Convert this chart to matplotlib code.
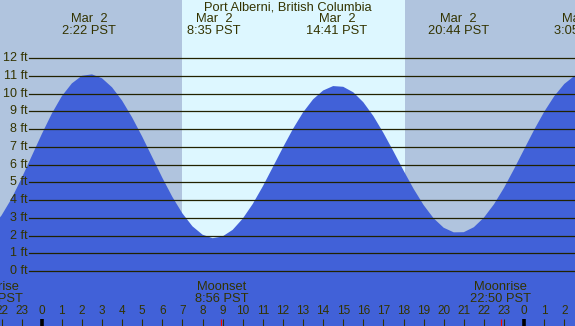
import numpy as np
import matplotlib
matplotlib.use("Agg")
import matplotlib.pyplot as plt

# ── data ─────────────────────────────────────────────────────────────────────
TITLE = "Port Alberni, British Columbia"
DATE_LABEL = "Mar  2"

# tide height (ft), read every half hour from 21:30 (prev day) to 03:00 (next day)
hours = np.arange(-2.5, 27.01, 0.5)
heights = [
    2.44, 3.13, 4.08, 5.23, 6.47, 7.71, 8.87, 9.86, 10.58, 11.01,   # -2.5 .. 2.0
    11.09, 10.87, 10.36, 9.61, 8.66, 7.58, 6.42, 5.26, 4.18, 3.25,  # 2.5 .. 7.0
    2.52, 2.05, 1.85, 1.95, 2.32, 2.95, 3.78, 4.77, 5.86, 6.96,     # 7.5 .. 12.0
    8.01, 8.94, 9.68, 10.18, 10.43, 10.39, 10.08, 9.52, 8.74, 7.79, # 12.5 .. 17.0
    6.75, 5.67, 4.64, 3.72, 2.97, 2.44, 2.18, 2.19, 2.47, 3.01,     # 17.5 .. 22.0
    3.76, 4.69, 5.75, 6.86, 7.96, 8.98, 9.86, 10.55, 11.00, 11.19,  # 22.5 .. 27.0
]

# high / low tide times
extreme_hours = [2.367, 8.583, 14.683, 20.733, 26.8]
extreme_labels = ["2:22 PST", "8:35 PST", "14:41 PST", "20:44 PST", "3:05 PST"]

# sun and moon
sunrise = 6.97
sunset = 18.06
moon_hours = [-2.45, 8.933, 22.833]
moon_events = ["Moonrise", "Moonset", "Moonrise"]
moon_labels = ["21:33 PST", "8:56 PST", "22:50 PST"]

ft_levels = list(range(0, 13))
hour_ticks = list(range(-2, 27))

# ── style ────────────────────────────────────────────────────────────────────
NIGHT = "#b0c4de"
DAY = "#ddf7ff"
WATER = "#4161d8"
INK = "#333300"
FONT = "Liberation Sans"

W, H = 575, 326
X0, PX_HOUR = 41.7, 20.1      # pixel of hour 0, pixels per hour
Y0, PX_FT = 271.0, 17.73      # pixel row of 0 ft, pixels per ft


def yfrac(row):
    """pixel row (from top) -> axes fraction"""
    return 1 - row / H


fig = plt.figure(figsize=(W / 100, H / 100), dpi=100)
ax = fig.add_axes([0, 0, 1, 1])
ax.set_xlim(-X0 / PX_HOUR, (W - X0) / PX_HOUR)
ax.set_ylim(-(H - Y0) / PX_FT, Y0 / PX_FT)
ax.axis("off")

# day / night background
xmin, xmax = ax.get_xlim()
ax.axvspan(xmin, sunrise, color=NIGHT, lw=0, zorder=0)
ax.axvspan(sunrise, sunset, color=DAY, lw=0, zorder=0)
ax.axvspan(sunset, xmax, color=NIGHT, lw=0, zorder=0)

# tide
ax.fill_between(hours, heights, -10, color=WATER, lw=0, zorder=1)

# ft grid lines + labels
x_line = (29 - X0) / PX_HOUR
for ft in ft_levels:
    ax.plot([x_line, xmax], [ft, ft], color="#222200", lw=0.9, zorder=2)
    ax.text((27.5 - X0) / PX_HOUR, ft, f"{ft} ft", ha="right", va="center",
            fontsize=9, color=INK, family=FONT, zorder=3)

trans = ax.get_xaxis_transform()

# title + tide extreme labels
ax.text((288 - X0) / PX_HOUR, yfrac(7), TITLE, transform=trans, ha="center",
        va="center", fontsize=9.3, color=INK, family=FONT)
for t, lab in zip(extreme_hours, extreme_labels):
    ax.text(t, yfrac(19.5), DATE_LABEL, transform=trans, ha="center", va="center",
            fontsize=9.3, color=INK, family=FONT)
    ax.text(t, yfrac(31.5), lab, transform=trans, ha="center", va="center",
            fontsize=9.3, color=INK, family=FONT)

# moon labels
for t, ev, lab in zip(moon_hours, moon_events, moon_labels):
    ax.text(t, yfrac(286.5), ev, transform=trans, ha="center", va="center",
            fontsize=9.3, color=INK, family=FONT)
    ax.text(t, yfrac(298.5), lab, transform=trans, ha="center", va="center",
            fontsize=9.3, color=INK, family=FONT)

# hour ticks
for h in hour_ticks:
    ax.text(h, yfrac(311.5), str(h % 24), transform=trans, ha="center",
            va="center", fontsize=8.5, color=INK, family=FONT)
    midnight = h % 24 == 0
    ax.vlines(h, yfrac(H), yfrac(318.5), transform=trans,
              color="black" if midnight else INK, lw=2.6 if midnight else 0.8)
for t in moon_hours:
    ax.vlines(t, yfrac(H), yfrac(318.5), transform=trans, color="red", lw=0.8)

fig.savefig("out.png", dpi=100)
